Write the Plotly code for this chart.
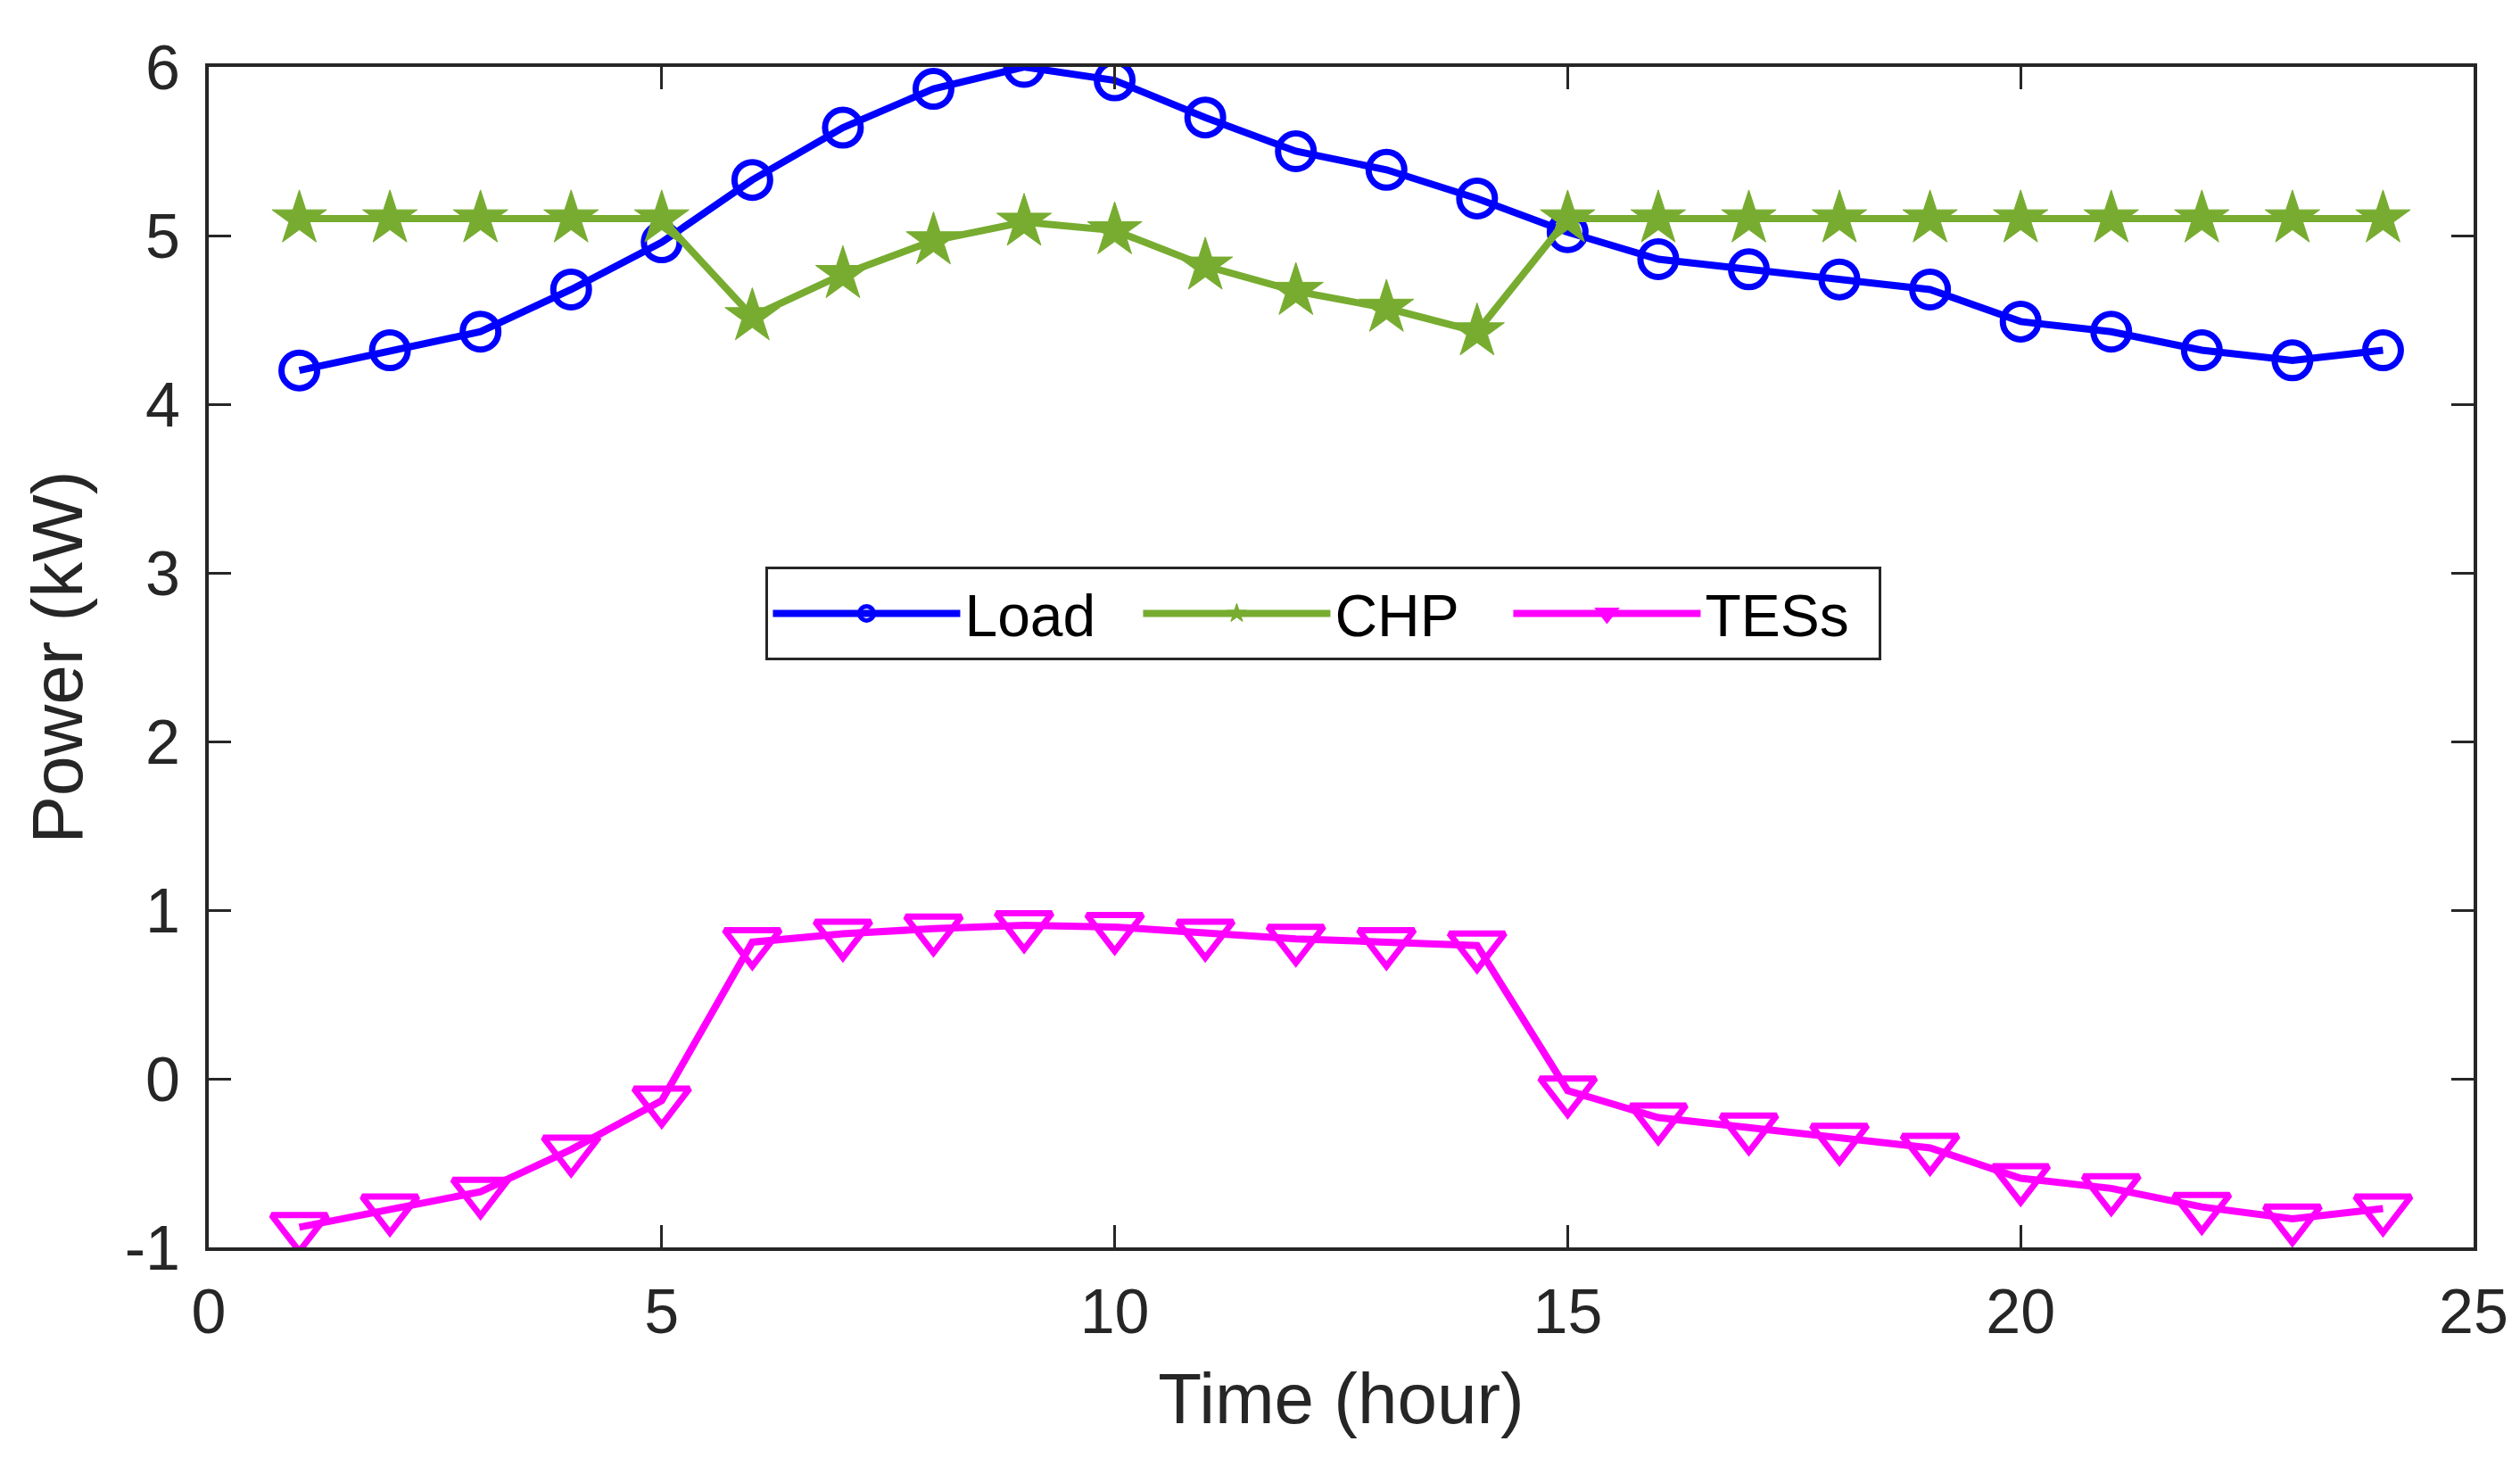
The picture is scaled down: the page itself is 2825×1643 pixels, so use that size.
import plotly.graph_objects as go

# hourly data
hours = list(range(1, 25))
load_kw = [4.20, 4.32, 4.43, 4.68, 4.96, 5.33, 5.64, 5.87, 6.00, 5.92, 5.70, 5.50,
           5.39, 5.22, 5.02, 4.86, 4.80, 4.74, 4.68, 4.49, 4.43, 4.32, 4.26, 4.32]
chp_kw = [5.10, 5.10, 5.10, 5.10, 5.10, 4.52, 4.77, 4.97, 5.08, 5.03, 4.82, 4.67,
          4.57, 4.43, 5.10, 5.10, 5.10, 5.10, 5.10, 5.10, 5.10, 5.10, 5.10, 5.10]
tes_kw = [-0.88, -0.77, -0.67, -0.42, -0.13, 0.81, 0.86, 0.89, 0.91, 0.90, 0.86, 0.83,
          0.81, 0.79, -0.07, -0.23, -0.29, -0.35, -0.41, -0.59, -0.65, -0.76, -0.83, -0.77]

x_ticks = [0, 5, 10, 15, 20, 25]
y_ticks = [-1, 0, 1, 2, 3, 4, 5, 6]
y_tick_text = ['-1', '0', '1', '2', '3', '4', '5', '6']

AX = '#262626'
FONT = 'Liberation Sans, Arial, sans-serif'

fig = go.Figure()

fig.add_trace(go.Scatter(
    x=hours, y=load_kw, name='Load', mode='lines+markers',
    line=dict(color='#0000FF', width=8),
    marker=dict(symbol='circle-open', size=40, color='#0000FF',
                line=dict(color='#0000FF', width=7))))

fig.add_trace(go.Scatter(
    x=hours, y=chp_kw, name='CHP', mode='lines+markers',
    line=dict(color='#77AC30', width=8),
    marker=dict(symbol='star', size=46, color='#77AC30',
                line=dict(color='#77AC30', width=1))))

fig.add_trace(go.Scatter(
    x=hours, y=tes_kw, name='TESs', mode='lines+markers',
    line=dict(color='#FF00FF', width=8),
    marker=dict(symbol='triangle-down-open', size=54, color='#FF00FF',
                line=dict(color='#FF00FF', width=7))))

axis_common = dict(
    showgrid=False, zeroline=False,
    showline=True, linecolor=AX, linewidth=4, mirror='ticks',
    ticks='inside', ticklen=25, tickwidth=3, tickcolor=AX,
    tickfont=dict(family=FONT, size=70, color=AX),
)

fig.update_xaxes(range=[0, 25], tickvals=x_ticks, ticklabelstandoff=8,
                 title=dict(text='Time (hour)', font=dict(family=FONT, size=80, color=AX), standoff=32),
                 **axis_common)
fig.update_yaxes(range=[-1, 6], tickvals=y_ticks, ticktext=y_tick_text, ticklabelstandoff=14,
                 title=dict(text='Power (kW)', font=dict(family=FONT, size=80, color=AX), standoff=22),
                 **axis_common)

fig.update_layout(
    width=2825, height=1643,
    margin=dict(l=226, r=60, t=67, b=253),
    paper_bgcolor='white', plot_bgcolor='white',
    font=dict(family=FONT, color=AX),
    legend=dict(
        orientation='h', x=0.4923, y=0.537, xanchor='center', yanchor='middle',
        bgcolor='white', bordercolor=AX, borderwidth=3,
        font=dict(family=FONT, size=66, color='black'),
        itemwidth=210, entrywidth=190, itemsizing='trace',
    ),
)

fig.write_html("out.html")
